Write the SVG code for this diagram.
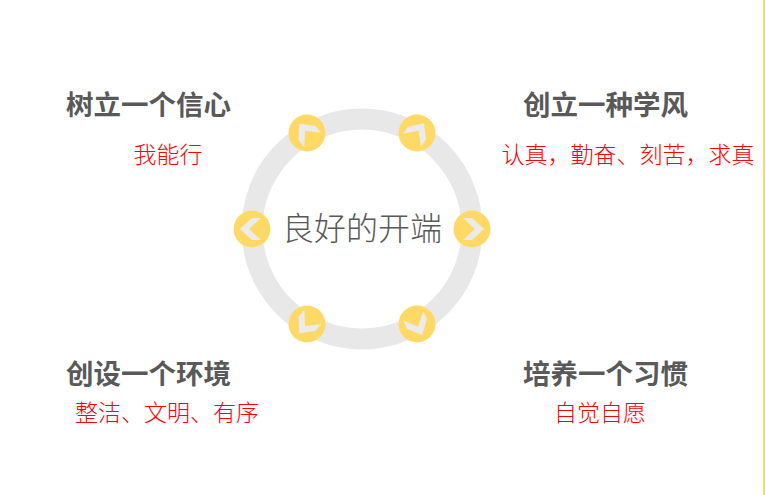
<svg xmlns="http://www.w3.org/2000/svg" width="766" height="495" viewBox="0 0 766 495">
<style>
.head{font-family:"Noto Sans CJK SC","Liberation Sans",sans-serif;font-weight:bold;font-size:27.5px;fill:#595959}
.sub{font-family:"Noto Sans CJK SC","Liberation Serif",serif;font-weight:300;font-size:23px;fill:#FF0000}
.center{font-family:"Noto Sans CJK SC","Liberation Sans",sans-serif;font-weight:300;font-size:32px;fill:#595959}
.dot{fill:#FFD966}
.chev{fill:#EBEBEB}
</style>
<defs>
<polygon id="chev" points="-9,-11 0,-11 12,0 0,11 -9,11 3,0"/>
</defs>
<rect width="766" height="495" fill="#FFFFFF"/>
<line x1="764" y1="0" x2="764" y2="495" stroke="#FFD966" stroke-width="2"/>
<g id="ring">
<circle cx="362" cy="229" r="110" fill="none" stroke="#E8E8E8" stroke-width="21"/>
</g>
<g id="connectors">
<g transform="translate(307,133)"><circle class="dot" r="18.5"/><use href="#chev" class="chev" transform="rotate(-130)"/></g>
<g transform="translate(417,133)"><circle class="dot" r="18.5"/><use href="#chev" class="chev" transform="rotate(-55)"/></g>
<g transform="translate(252,229)"><circle class="dot" r="18.5"/><use href="#chev" class="chev" transform="rotate(180)"/></g>
<g transform="translate(472,229)"><circle class="dot" r="18.5"/><use href="#chev" class="chev"/></g>
<g transform="translate(307,324)"><circle class="dot" r="18.5"/><use href="#chev" class="chev" transform="rotate(130)"/></g>
<g transform="translate(417,324)"><circle class="dot" r="18.5"/><use href="#chev" class="chev" transform="rotate(65)"/></g>
</g>
<g id="center">
<text class="center" x="362" y="240" text-anchor="middle">良好的开端</text>
</g>
<g id="node-tl">
<text class="head" x="66" y="115">树立一个信心</text>
<text class="sub" x="168" y="163" text-anchor="middle">我能行</text>
</g>
<g id="node-tr">
<text class="head" x="523" y="115">创立一种学风</text>
<text class="sub" x="628" y="163" text-anchor="middle">认真，勤奋、刻苦，求真</text>
</g>
<g id="node-bl">
<text class="head" x="66" y="384">创设一个环境</text>
<text class="sub" x="167" y="421" text-anchor="middle">整洁、文明、有序</text>
</g>
<g id="node-br">
<text class="head" x="523" y="384">培养一个习惯</text>
<text class="sub" x="600" y="421" text-anchor="middle">自觉自愿</text>
</g>
</svg>
